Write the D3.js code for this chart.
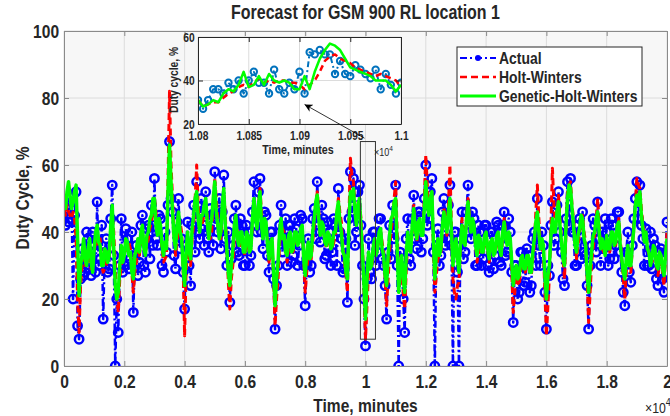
<!DOCTYPE html>
<html>
<head>
<meta charset="utf-8">
<script src="https://cdn.jsdelivr.net/npm/d3@7"></script>
<style>
body { margin: 0; background: #fff; }
text { font-family: "Liberation Sans", Arial, sans-serif; font-weight: bold; fill: #262626; }
</style>
</head>
<body>
<div id="chart"></div>
<script>

//////////////////////////////////////////////////////////////////////////////
// Data, one sample every 50 minutes

var sampleStep = 50;

var actual = [
    46,42, 48,43, 44,49, 20,45, 52,12,  8,26, 35,27, 28,40, 38,29, 27,40,
    36,28, 49,30, 32,42, 14,34, 38,28, 29,44, 54,33,  0,20, 10,30, 44,28,
    30,41, 38,29, 32,40, 16,33, 36,27, 31,42, 45,30, 28,41, 42,32, 48,36,
    56,38, 36,45, 44,30, 28,40, 34,48, 67,50, 46,33, 29,43, 50,35, 38,28,
    17,36, 43,30, 24,42, 48,34, 55,40, 38,50, 46,36, 52,38, 34,47, 45,36,
    58,44, 40,50, 35,46, 57,38, 30,40, 19,32, 36,44, 48,34, 33,44, 42,30,
    30,42, 40,30, 33,46, 55,42, 40,52, 56,40, 35,46, 45,33, 28,40, 40,26,
    11,24, 30,42, 48,34, 38,44, 30,42, 42,31, 33,44, 41,30, 36,45, 44,30,
    18,32, 38,28, 30,44, 47,38, 55,42, 37,48, 44,32, 33,43, 40,30, 34,44,
    42,30, 53,40, 38,28, 29,38, 19,44, 58,46, 56,36, 40,52, 54,42, 30,20,
     6,26, 38,28, 26,40, 40,30, 34,44, 44,32, 30,24, 14,34, 42,32, 48,38,
    54,30,  0,34, 32,20, 10,38, 44,32, 30,44, 51,38, 35,46, 46,34, 38,50,
    60,42, 44,52, 56,34,  0,36, 41,30, 33,46, 50,36, 38,48, 54,36,  0,40,
    40,28,  0,38, 46,32, 34,46, 54,40, 38,46, 44,30, 30,42, 40,30, 32,42,
    42,30, 28,40, 40,29, 33,43, 42,31, 30,42, 46,33, 34,44, 40,28, 13,30,
    30,20, 22,34, 34,24, 25,35, 33,22, 24,38, 40,30, 50,36, 30,40, 36,22,
    11,30, 27,42, 49,36, 38,48, 52,40, 34,26, 24,44, 55,42, 56,40, 40,30,
    30,42, 44,32, 46,34, 33,24, 11,30, 36,44, 42,34, 49,38, 30,40, 35,44,
    40,30, 32,44, 42,32, 36,46, 46,34, 28,22, 18,34, 40,28, 25,36, 44,50,
    55,44, 54,42, 38,30, 41,30, 30,40, 29,38, 36,26, 24,34, 35,26, 22,34,
    43];

var holtWinters = [
    47,45, 48,46, 45,44, 46,44, 38,20, 10,24, 30,34, 30,32, 33,31, 29,32,
    34,37, 38,36, 38,30, 28,29, 30,34, 32,38, 45,40, 30,20, 16,26, 30,35,
    34,34, 35,37, 35,28, 22,28, 31,35, 33,37, 40,36, 34,36, 38,41, 43,46,
    50,46, 42,40, 40,35, 31,32, 33,56, 82,60, 50,40, 33,37, 42,43, 40,30,
     9,28, 36,33, 30,38, 42,50, 60,48, 42,42, 43,46, 49,45, 40,38, 40,48,
    56,50, 44,40, 38,46, 52,45, 36,25, 17,26, 30,38, 43,40, 37,36, 38,36,
    33,35, 37,36, 35,42, 48,46, 43,48, 53,46, 40,40, 42,38, 31,34, 37,26,
    12,20, 26,36, 42,41, 40,35, 31,35, 39,36, 34,37, 39,38, 37,39, 41,32,
    22,28, 33,33, 32,37, 42,48, 52,46, 42,41, 40,38, 35,37, 38,37, 35,37,
    39,45, 50,46, 43,36, 31,27, 22,44, 62,57, 55,48, 44,47, 49,44, 36,22,
     8,18, 28,30, 29,33, 37,36, 35,38, 40,37, 34,26, 18,26, 34,40, 44,50,
    55,40, 28,26, 29,22, 17,28, 37,36, 35,40, 48,43, 37,40, 43,41, 40,50,
    63,54, 47,50, 52,36, 22,27, 32,33, 34,40, 47,44, 39,48, 60,42, 26,22,
    20,24, 25,36, 44,40, 36,44, 50,45, 41,41, 41,36, 31,34, 37,36, 34,36,
    39,35, 31,34, 37,35, 34,36, 39,36, 33,38, 44,40, 37,37, 37,28, 16,22,
    27,25, 24,29, 33,30, 28,30, 32,29, 27,32, 36,46, 54,44, 36,35, 34,22,
     9,18, 27,42, 59,48, 42,46, 51,44, 38,32, 26,40, 52,54, 55,48, 44,38,
    32,36, 40,42, 45,40, 37,26, 13,22, 31,35, 39,44, 50,42, 36,35, 34,36,
    38,36, 34,37, 40,38, 36,40, 44,38, 32,26, 20,28, 34,31, 28,35, 42,48,
    56,54, 53,47, 42,40, 39,36, 33,32, 31,32, 35,30, 27,30, 33,28, 24,32,
    40];

var geneticHW = [
    50,47, 52,55, 51,47, 49,52, 54,38, 21,30, 33,38, 32,30, 35,38, 31,28,
    35,40, 42,37, 36,30, 30,35, 34,31, 33,42, 48,35, 24,20, 22,30, 36,31,
    33,38, 37,33, 34,28, 26,33, 35,38, 34,40, 42,35, 33,39, 40,44, 45,50,
    50,42, 39,44, 42,36, 33,37, 35,52, 66,55, 46,38, 35,42, 46,40, 38,30,
    24,34, 40,34, 32,41, 45,50, 52,44, 40,45, 45,48, 50,43, 38,42, 44,50,
    55,46, 42,38, 40,48, 53,42, 35,28, 24,30, 35,42, 45,38, 36,40, 40,34,
    34,40, 39,34, 35,44, 50,44, 41,48, 52,42, 38,44, 43,36, 32,37, 38,28,
    18,26, 31,40, 44,38, 39,34, 33,39, 40,34, 35,40, 40,36, 37,41, 42,32,
    27,34, 37,32, 33,40, 44,49, 51,44, 39,43, 42,37, 36,40, 39,35, 36,40,
    40,46, 49,43, 40,34, 33,28, 26,42, 52,50, 53,46, 42,48, 50,41, 34,24,
    14,26, 34,29, 30,35, 38,33, 35,40, 41,35, 33,27, 24,33, 39,44, 45,49,
    50,35, 22,30, 33,26, 22,33, 40,35, 34,42, 47,41, 38,43, 44,39, 39,47,
    55,48, 45,50, 52,38, 26,34, 38,33, 35,42, 46,42, 40,46, 50,40, 30,35,
    38,32, 28,37, 42,37, 36,44, 49,43, 40,44, 42,36, 33,39, 38,34, 34,39,
    40,35, 32,37, 38,33, 34,39, 40,35, 33,40, 43,38, 36,40, 38,31, 24,28,
    30,26, 27,32, 33,29, 29,33, 33,28, 28,34, 38,43, 46,40, 35,38, 36,27,
    20,27, 30,39, 44,40, 40,46, 49,42, 37,32, 30,42, 50,54, 53,47, 42,36,
    34,39, 41,45, 44,38, 36,28, 22,29, 34,39, 40,44, 46,40, 35,38, 36,33,
    39,35, 35,40, 40,36, 37,42, 43,36, 32,28, 26,32, 36,30, 30,36, 41,48,
    51,48, 52,45, 41,37, 40,35, 34,30, 32,36, 35,30, 29,34, 33,29, 27,33,
    38];

// inset: 1.08e4 .. 1.1e4 minutes, every 5 minutes
var insetStart = 10800, insetStep = 5;
var insetActual = [31, 27, 31, 36, 36, 34, 39, 36, 40, 34, 40, 44, 39, 39, 34, 45, 36, 34, 39, 36,
                   44, 34, 53, 52, 54, 52, 52, 43, 49, 43, 42, 47, 45, 43, 41, 45, 36, 43, 38, 34, 39];
var insetHW     = [31, 28, 29, 30, 30, 32, 34, 35, 37, 38, 37, 39, 41, 39, 40, 39, 40, 40, 39, 39,
                   38, 36, 38, 40, 44, 49, 51, 52, 50, 49, 48, 46, 45, 44, 43, 42, 43, 42, 41, 40, 37];
var insetGHW    = [31, 28, 29, 31, 30, 34, 36, 35, 38, 44, 37, 38, 42, 38, 43, 40, 39, 40, 39, 36,
                   36, 42, 36, 44, 50, 54, 57, 56, 54, 50, 46, 45, 44, 43, 42, 40, 40, 40, 38, 35, 38];

var xTicks = [0, 2000, 4000, 6000, 8000, 10000, 12000, 14000, 16000, 18000, 20000];
var xTickLabels = ["0", "0.2", "0.4", "0.6", "0.8", "1", "1.2", "1.4", "1.6", "1.8", "2"];
var yTicks = [0, 20, 40, 60, 80, 100];
var insetXTicks = [10800, 10850, 10900, 10950, 11000];
var insetXTickLabels = ["1.08", "1.085", "1.09", "1.095", "1.1"];
var insetYTicks = [20, 40, 60];

var seriesNames = ["Actual", "Holt-Winters", "Genetic-Holt-Winters"];

// zoom box on the main axes (minutes, %) and the arrow into the inset
var zoomBox = [9830, 10330, 8, 67];
var arrowTail = [9967, 68];     // main axes coords
var arrowHead = [10905, 29];    // inset coords

//////////////////////////////////////////////////////////////////////////////
// Preliminaries

var width = 670, height = 416;
var blue = "#0000ff", red = "#ff0000", green = "#00ff00", matBlue = "#0072bd";
var squeeze = "scale(0.82,1)";   // the figure's font is a narrow Helvetica

var xScale = d3.scaleLinear().domain([0, 20000]).range([64, 667]);
var yScale = d3.scaleLinear().domain([0, 100]).range([366, 31]);

var ixScale = d3.scaleLinear().domain([10800, 11000]).range([198, 401]);
var iyScale = d3.scaleLinear().domain([20, 60]).range([124, 37]);

var svg = d3.select("#chart").append("svg")
    .attr("width", width)
    .attr("height", height);
var defs = svg.append("defs");

function narrowText(sel, x, y, angle) {
    return sel.append("text")
        .attr("transform", "translate(" + x + "," + y + ")" +
              (angle ? " rotate(" + angle + ")" : "") + " " + squeeze);
}

function toPoints(values, start, step) {
    return values.map(function(v, i) { return {t: start + i * step, v: v}; });
}

function drawGrid(g, xs, ys, xt, yt) {
    var x0 = xs.range()[0], x1 = xs.range()[1];
    var y0 = ys.range()[0], y1 = ys.range()[1];

    g.append("g").selectAll("line").data(xt).enter().append("line")
        .attr("x1", xs).attr("x2", xs).attr("y1", y0).attr("y2", y1)
        .attr("stroke", "#dcdcdc").attr("stroke-width", 1);
    g.append("g").selectAll("line").data(yt).enter().append("line")
        .attr("y1", ys).attr("y2", ys).attr("x1", x0).attr("x2", x1)
        .attr("stroke", "#dcdcdc").attr("stroke-width", 1);
}

function drawAxesBox(g, xs, ys, xt, xtl, yt, fontSize, pad, color) {
    var x0 = xs.range()[0], x1 = xs.range()[1];
    var y0 = ys.range()[0], y1 = ys.range()[1];

    var bottom = g.append("g").attr("transform", "translate(0," + y0 + ")")
        .call(d3.axisBottom(xs).tickValues(xt)
            .tickFormat(function(d, i) { return xtl[i]; })
            .tickSizeInner(-5).tickSizeOuter(0).tickPadding(pad));
    var left = g.append("g").attr("transform", "translate(" + x0 + ",0)")
        .call(d3.axisLeft(ys).tickValues(yt)
            .tickSizeInner(-5).tickSizeOuter(0).tickPadding(pad - 3));
    var top = g.append("g").attr("transform", "translate(0," + y1 + ")")
        .call(d3.axisTop(xs).tickValues(xt).tickFormat("")
            .tickSizeInner(-5).tickSizeOuter(0));
    var right = g.append("g").attr("transform", "translate(" + x1 + ",0)")
        .call(d3.axisRight(ys).tickValues(yt).tickFormat("")
            .tickSizeInner(-5).tickSizeOuter(0));

    [bottom, left, top, right].forEach(function(a) {
        a.attr("font-family", null).attr("font-size", null);
        a.select(".domain").attr("stroke", color);
        a.selectAll(".tick line").attr("stroke", color);
        a.selectAll(".tick text")
            .attr("transform", squeeze)
            .attr("fill", "#262626")
            .style("font-size", fontSize + "px");
    });
}

function drawSeries(g, data, xs, ys, opts) {
    var line = d3.line()
        .x(function(d) { return xs(d.t); })
        .y(function(d) { return ys(d.v); });
    g.append("path")
        .datum(data)
        .attr("d", line)
        .attr("fill", "none")
        .attr("stroke", opts.color)
        .attr("stroke-width", opts.width)
        .attr("stroke-dasharray", opts.dash || null)
        .attr("stroke-linejoin", "round");
    if (opts.marker) {
        g.append("g").selectAll("circle")
            .data(data)
            .enter().append("circle")
            .attr("cx", function(d) { return xs(d.t); })
            .attr("cy", function(d) { return ys(d.v); })
            .attr("r", opts.marker)
            .attr("fill", "none")
            .attr("stroke", opts.color)
            .attr("stroke-width", opts.markerWidth);
    }
}

//////////////////////////////////////////////////////////////////////////////
// Main axes

defs.append("clipPath").attr("id", "mainClip")
    .append("rect")
    .attr("x", xScale(0)).attr("y", yScale(100))
    .attr("width", xScale(20000) - xScale(0))
    .attr("height", yScale(0) - yScale(100));

svg.append("rect")
    .attr("x", xScale(0)).attr("y", yScale(100))
    .attr("width", xScale(20000) - xScale(0))
    .attr("height", yScale(0) - yScale(100))
    .attr("fill", "#f7f7f7");

var main = svg.append("g");
drawGrid(main, xScale, yScale, xTicks, yTicks);

var mainData = main.append("g").attr("clip-path", "url(#mainClip)");
drawSeries(mainData, toPoints(actual, 0, sampleStep), xScale, yScale,
    {color: blue, width: 2.5, dash: "7,3,2,3", marker: 4.2, markerWidth: 2.5});
drawSeries(mainData, toPoints(holtWinters, 0, sampleStep), xScale, yScale,
    {color: red, width: 3, dash: "7,4"});
drawSeries(mainData, toPoints(geneticHW, 0, sampleStep), xScale, yScale,
    {color: green, width: 3.5});

drawAxesBox(main, xScale, yScale, xTicks, xTickLabels, yTicks, 19, 9, "#8a8a8a");

// zoom rectangle
main.append("rect")
    .attr("x", xScale(zoomBox[0]))
    .attr("y", yScale(zoomBox[3]))
    .attr("width", xScale(zoomBox[1]) - xScale(zoomBox[0]))
    .attr("height", yScale(zoomBox[2]) - yScale(zoomBox[3]))
    .attr("fill", "none")
    .attr("stroke", "#333")
    .attr("stroke-width", 1);

// title and labels
narrowText(svg, 365.5, 19)
    .attr("text-anchor", "middle")
    .style("font-size", "19.5px")
    .text("Forecast for GSM 900 RL location 1");

narrowText(svg, 365.5, 412)
    .attr("text-anchor", "middle")
    .style("font-size", "19px")
    .text("Time, minutes");

narrowText(svg, 29, 198, -90)
    .attr("text-anchor", "middle")
    .style("font-size", "19px")
    .text("Duty Cycle, %");

var mult = narrowText(svg, 645, 413)
    .style("font-size", "15px")
    .style("font-weight", "normal");
mult.append("tspan").text("\u00d710");
mult.append("tspan").attr("dy", -7).style("font-size", "11px").text("4");

//////////////////////////////////////////////////////////////////////////////
// Legend

var legend = svg.append("g");
legend.append("rect")
    .attr("x", 457).attr("y", 47)
    .attr("width", 185).attr("height", 59)
    .attr("fill", "#fff")
    .attr("stroke", "#262626").attr("stroke-width", 1);

var legendStyles = [
    {color: blue, width: 2, dash: "7,3,2,3", dot: true},
    {color: red, width: 2.5, dash: "7,4"},
    {color: green, width: 3}
];
var legendRow = d3.scaleLinear().domain([0, 2]).range([58, 96]);

seriesNames.forEach(function(name, i) {
    var s = legendStyles[i];
    var y = legendRow(i);
    legend.append("line")
        .attr("x1", 460).attr("x2", 496).attr("y1", y).attr("y2", y)
        .attr("stroke", s.color).attr("stroke-width", s.width)
        .attr("stroke-dasharray", s.dash || null);
    if (s.dot) {
        legend.append("circle").attr("cx", 478).attr("cy", y).attr("r", 3)
            .attr("fill", s.color);
    }
    narrowText(legend, 499, y)
        .attr("dy", "0.36em")
        .style("font-size", "17px")
        .text(name);
});

//////////////////////////////////////////////////////////////////////////////
// Inset

defs.append("clipPath").attr("id", "insetClip")
    .append("rect")
    .attr("x", 198).attr("y", 37).attr("width", 203).attr("height", 87);

var inset = svg.append("g");
inset.append("rect")
    .attr("x", 198).attr("y", 37).attr("width", 203).attr("height", 87)
    .attr("fill", "#fff");
drawGrid(inset, ixScale, iyScale, insetXTicks, insetYTicks);

var insetData = inset.append("g").attr("clip-path", "url(#insetClip)");
drawSeries(insetData, toPoints(insetActual, insetStart, insetStep), ixScale, iyScale,
    {color: matBlue, width: 2, dash: "6,3,2,3", marker: 3.2, markerWidth: 2});
drawSeries(insetData, toPoints(insetHW, insetStart, insetStep), ixScale, iyScale,
    {color: red, width: 2.5, dash: "6,4"});
drawSeries(insetData, toPoints(insetGHW, insetStart, insetStep), ixScale, iyScale,
    {color: green, width: 2.5});

drawAxesBox(inset, ixScale, iyScale, insetXTicks, insetXTickLabels, insetYTicks, 12.5, 7, "#262626");

narrowText(inset, 298, 154)
    .attr("text-anchor", "middle")
    .style("font-size", "13px")
    .text("Time, minutes");

narrowText(inset, 178, 80, -90)
    .attr("text-anchor", "middle")
    .style("font-size", "12.5px")
    .text("Duty cycle, %");

var imult = narrowText(inset, 374, 156)
    .style("font-size", "11px")
    .style("font-weight", "normal");
imult.append("tspan").text("\u00d710");
imult.append("tspan").attr("dy", -5).style("font-size", "8px").text("4");

// arrow
defs.append("marker")
    .attr("id", "arrowHead")
    .attr("viewBox", "0 0 10 10")
    .attr("refX", 10).attr("refY", 5)
    .attr("markerWidth", 10).attr("markerHeight", 8)
    .attr("markerUnits", "userSpaceOnUse")
    .attr("orient", "auto")
    .append("path")
    .attr("d", "M0,0 L10,5 L0,10 L3,5 Z")
    .attr("fill", "#000");

svg.append("line")
    .attr("x1", xScale(arrowTail[0])).attr("y1", yScale(arrowTail[1]))
    .attr("x2", ixScale(arrowHead[0])).attr("y2", iyScale(arrowHead[1]))
    .attr("stroke", "#000").attr("stroke-width", 0.8)
    .attr("marker-end", "url(#arrowHead)");

</script>
</body>
</html>
